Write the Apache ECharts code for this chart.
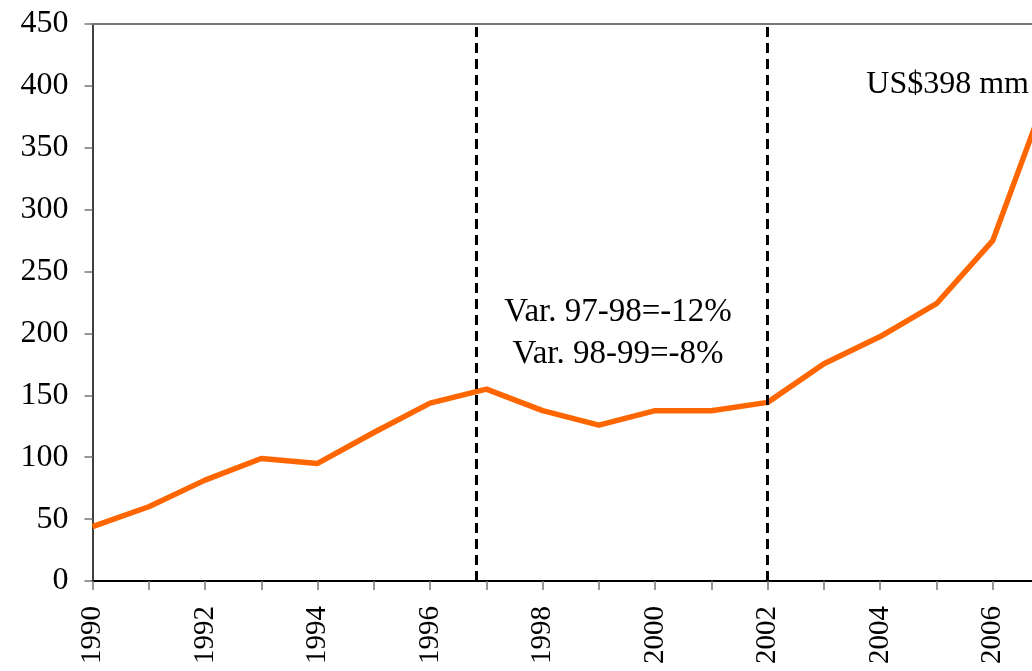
<!DOCTYPE html>
<html>
<head>
<meta charset="utf-8">
<script src="https://cdn.jsdelivr.net/npm/echarts@6/dist/echarts.min.js"></script>
<style>
  html, body { margin: 0; padding: 0; overflow: hidden; background: #fff; }
  #main { width: 1100px; height: 671px; }
</style>
</head>
<body>
<div id="main"></div>
<script>
// 数据
const years = [1990, 1991, 1992, 1993, 1994, 1995, 1996, 1997, 1998, 1999, 2000, 2001, 2002, 2003, 2004, 2005, 2006, 2007];
const values = [44, 60, 81.5, 99, 95, 120, 143.7, 155, 137.6, 126, 137.6, 137.6, 144.3, 175.5, 197.5, 224, 275, 398];
const dividers = [1996.82, 2002];
const yTicks = { min: 0, max: 450, interval: 50 };
const noteLines = ['Var. 97-98=-12%', 'Var. 98-99=-8%'];
const lastLabel = 'US$398 mm';

const serif = '"Liberation Serif", "DejaVu Serif", serif';
const chart = echarts.init(document.getElementById('main'));

const option = {
  animation: false,
  grid: { left: 92.5, right: 51, top: 24, bottom: 90 },
  xAxis: [
    {
      type: 'value',
      min: 1990,
      max: 2007,
      interval: 1,
      axisLine: { lineStyle: { color: '#000', width: 2 } },
      axisTick: { show: true, length: 9, lineStyle: { color: '#777', width: 1.5 } },
      splitLine: { show: false },
      axisLabel: {
        rotate: 90,
        margin: 25,
        color: '#000',
        fontFamily: serif,
        fontSize: 29,
        formatter: v => (v % 2 === 0 ? String(v) : '')
      }
    },
    {
      // 顶部边框线
      type: 'value',
      position: 'top',
      min: 1990,
      max: 2007,
      axisLine: { show: true, lineStyle: { color: '#777', width: 2 } },
      axisTick: { show: false },
      axisLabel: { show: false },
      splitLine: { show: false }
    }
  ],
  yAxis: {
    type: 'value',
    min: yTicks.min,
    max: yTicks.max,
    interval: yTicks.interval,
    axisLine: { show: true, lineStyle: { color: '#000', width: 1.5 } },
    axisTick: { show: true, length: 8, lineStyle: { color: '#777', width: 1.5 } },
    splitLine: { show: false },
    axisLabel: {
      margin: 24,
      color: '#000',
      fontFamily: serif,
      fontSize: 32
    }
  },
  series: [
    {
      type: 'line',
      xAxisIndex: 0,
      data: years.map((y, i) => [y, values[i]]),
      showSymbol: false,
      symbol: 'none',
      lineStyle: { color: '#ff6600', width: 5.5 },
      markLine: {
        silent: true,
        symbol: 'none',
        label: { show: false },
        lineStyle: { color: '#000', type: [10, 6], width: 3 },
        data: dividers.map(d => ({ xAxis: d }))
      },
      markPoint: {
        silent: true,
        symbol: 'circle',
        symbolSize: 0,
        data: [{ coord: [years[years.length - 1], values[values.length - 1]] }],
        label: {
          show: true,
          position: 'left',
          distance: 20,
          offset: [0, -4],
          formatter: lastLabel,
          color: '#000',
          fontFamily: serif,
          fontSize: 32
        }
      }
    }
  ],
  graphic: [
    {
      type: 'text',
      x: 618,
      y: 291,
      style: {
        text: noteLines.join('\n'),
        align: 'center',
        verticalAlign: 'top',
        fill: '#000',
        font: '33px ' + serif,
        lineHeight: 42
      }
    }
  ]
};

chart.setOption(option);
</script>
</body>
</html>
